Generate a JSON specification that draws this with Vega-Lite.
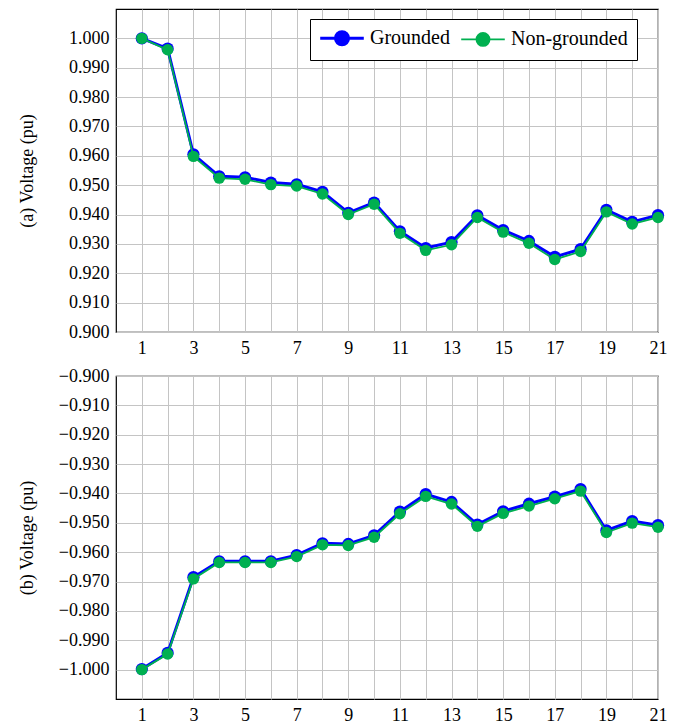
{
  "$schema": "https://vega.github.io/schema/vega-lite/v6.json",
  "padding": {"left": 17, "top": 8, "right": 5, "bottom": 2},
  "config": {
    "font": "Liberation Serif",
    "view": {"stroke": "black", "strokeWidth": 1.2},
    "axis": {
      "labelFont": "Liberation Serif", "labelFontSize": 18, "labelColor": "black",
      "titleFont": "Liberation Serif", "titleFontSize": 18, "titleFontWeight": "normal", "titleColor": "black",
      "gridColor": "#c4c4c4", "gridWidth": 1, "gridOpacity": 1,
      "ticks": false, "domain": false, "labelPadding": 7, "labelFlush": false, "labelOverlap": false
    }
  },
  "datasets": {
    "d": [
      {"panel": "a", "series": "Grounded", "x": 1, "v": 1.0},
      {"panel": "a", "series": "Grounded", "x": 2, "v": 0.9965},
      {"panel": "a", "series": "Grounded", "x": 3, "v": 0.9605},
      {"panel": "a", "series": "Grounded", "x": 4, "v": 0.953},
      {"panel": "a", "series": "Grounded", "x": 5, "v": 0.9527},
      {"panel": "a", "series": "Grounded", "x": 6, "v": 0.9509},
      {"panel": "a", "series": "Grounded", "x": 7, "v": 0.9503},
      {"panel": "a", "series": "Grounded", "x": 8, "v": 0.9477},
      {"panel": "a", "series": "Grounded", "x": 9, "v": 0.9406},
      {"panel": "a", "series": "Grounded", "x": 10, "v": 0.9441},
      {"panel": "a", "series": "Grounded", "x": 11, "v": 0.9343},
      {"panel": "a", "series": "Grounded", "x": 12, "v": 0.9286},
      {"panel": "a", "series": "Grounded", "x": 13, "v": 0.9306},
      {"panel": "a", "series": "Grounded", "x": 14, "v": 0.9397},
      {"panel": "a", "series": "Grounded", "x": 15, "v": 0.9347},
      {"panel": "a", "series": "Grounded", "x": 16, "v": 0.931},
      {"panel": "a", "series": "Grounded", "x": 17, "v": 0.9256},
      {"panel": "a", "series": "Grounded", "x": 18, "v": 0.9282},
      {"panel": "a", "series": "Grounded", "x": 19, "v": 0.9416},
      {"panel": "a", "series": "Grounded", "x": 20, "v": 0.9375},
      {"panel": "a", "series": "Grounded", "x": 21, "v": 0.9398},
      {"panel": "a", "series": "Non-grounded", "x": 1, "v": 1.0},
      {"panel": "a", "series": "Non-grounded", "x": 2, "v": 0.9961},
      {"panel": "a", "series": "Non-grounded", "x": 3, "v": 0.9598},
      {"panel": "a", "series": "Non-grounded", "x": 4, "v": 0.9524},
      {"panel": "a", "series": "Non-grounded", "x": 5, "v": 0.952},
      {"panel": "a", "series": "Non-grounded", "x": 6, "v": 0.9502},
      {"panel": "a", "series": "Non-grounded", "x": 7, "v": 0.9497},
      {"panel": "a", "series": "Non-grounded", "x": 8, "v": 0.947},
      {"panel": "a", "series": "Non-grounded", "x": 9, "v": 0.94},
      {"panel": "a", "series": "Non-grounded", "x": 10, "v": 0.9435},
      {"panel": "a", "series": "Non-grounded", "x": 11, "v": 0.9336},
      {"panel": "a", "series": "Non-grounded", "x": 12, "v": 0.9278},
      {"panel": "a", "series": "Non-grounded", "x": 13, "v": 0.9297},
      {"panel": "a", "series": "Non-grounded", "x": 14, "v": 0.939},
      {"panel": "a", "series": "Non-grounded", "x": 15, "v": 0.934},
      {"panel": "a", "series": "Non-grounded", "x": 16, "v": 0.9302},
      {"panel": "a", "series": "Non-grounded", "x": 17, "v": 0.9247},
      {"panel": "a", "series": "Non-grounded", "x": 18, "v": 0.9274},
      {"panel": "a", "series": "Non-grounded", "x": 19, "v": 0.9409},
      {"panel": "a", "series": "Non-grounded", "x": 20, "v": 0.9368},
      {"panel": "a", "series": "Non-grounded", "x": 21, "v": 0.939},
      {"panel": "b", "series": "Grounded", "x": 1, "v": -0.9998},
      {"panel": "b", "series": "Grounded", "x": 2, "v": -0.9943},
      {"panel": "b", "series": "Grounded", "x": 3, "v": -0.9685},
      {"panel": "b", "series": "Grounded", "x": 4, "v": -0.9631},
      {"panel": "b", "series": "Grounded", "x": 5, "v": -0.9631},
      {"panel": "b", "series": "Grounded", "x": 6, "v": -0.9631},
      {"panel": "b", "series": "Grounded", "x": 7, "v": -0.961},
      {"panel": "b", "series": "Grounded", "x": 8, "v": -0.957},
      {"panel": "b", "series": "Grounded", "x": 9, "v": -0.9572},
      {"panel": "b", "series": "Grounded", "x": 10, "v": -0.9543},
      {"panel": "b", "series": "Grounded", "x": 11, "v": -0.9462},
      {"panel": "b", "series": "Grounded", "x": 12, "v": -0.9402},
      {"panel": "b", "series": "Grounded", "x": 13, "v": -0.9429},
      {"panel": "b", "series": "Grounded", "x": 14, "v": -0.9506},
      {"panel": "b", "series": "Grounded", "x": 15, "v": -0.9461},
      {"panel": "b", "series": "Grounded", "x": 16, "v": -0.9435},
      {"panel": "b", "series": "Grounded", "x": 17, "v": -0.9411},
      {"panel": "b", "series": "Grounded", "x": 18, "v": -0.9385},
      {"panel": "b", "series": "Grounded", "x": 19, "v": -0.9526},
      {"panel": "b", "series": "Grounded", "x": 20, "v": -0.9494},
      {"panel": "b", "series": "Grounded", "x": 21, "v": -0.9508},
      {"panel": "b", "series": "Non-grounded", "x": 1, "v": -1.0},
      {"panel": "b", "series": "Non-grounded", "x": 2, "v": -0.9947},
      {"panel": "b", "series": "Non-grounded", "x": 3, "v": -0.9691},
      {"panel": "b", "series": "Non-grounded", "x": 4, "v": -0.9635},
      {"panel": "b", "series": "Non-grounded", "x": 5, "v": -0.9635},
      {"panel": "b", "series": "Non-grounded", "x": 6, "v": -0.9635},
      {"panel": "b", "series": "Non-grounded", "x": 7, "v": -0.9615},
      {"panel": "b", "series": "Non-grounded", "x": 8, "v": -0.9575},
      {"panel": "b", "series": "Non-grounded", "x": 9, "v": -0.9577},
      {"panel": "b", "series": "Non-grounded", "x": 10, "v": -0.9549},
      {"panel": "b", "series": "Non-grounded", "x": 11, "v": -0.9469},
      {"panel": "b", "series": "Non-grounded", "x": 12, "v": -0.941},
      {"panel": "b", "series": "Non-grounded", "x": 13, "v": -0.9436},
      {"panel": "b", "series": "Non-grounded", "x": 14, "v": -0.9512},
      {"panel": "b", "series": "Non-grounded", "x": 15, "v": -0.9468},
      {"panel": "b", "series": "Non-grounded", "x": 16, "v": -0.9443},
      {"panel": "b", "series": "Non-grounded", "x": 17, "v": -0.9418},
      {"panel": "b", "series": "Non-grounded", "x": 18, "v": -0.9392},
      {"panel": "b", "series": "Non-grounded", "x": 19, "v": -0.9533},
      {"panel": "b", "series": "Non-grounded", "x": 20, "v": -0.9501},
      {"panel": "b", "series": "Non-grounded", "x": 21, "v": -0.9515}
    ]
  },
  "spacing": 8,
  "resolve": {"scale": {"color": "independent", "y": "independent", "x": "independent"}, "legend": {"color": "independent"}},
  "vconcat": [
    {
      "width": 542, "height": 323,
      "data": {"name": "d"},
      "transform": [{"filter": "datum.panel == 'a'"}],
      "encoding": {
        "x": {"field": "x", "type": "quantitative", "scale": {"domain": [0, 21], "nice": false, "zero": false},
              "axis": {"title": null, "values": [1,2,3,4,5,6,7,8,9,10,11,12,13,14,15,16,17,18,19,20,21], "labelExpr": "datum.value % 2 == 1 ? datum.label : ''"}},
        "y": {"field": "v", "type": "quantitative", "scale": {"domain": [0.9, 1.01], "nice": false, "zero": false},
              "axis": {"title": "(a) Voltage (pu)", "titleX": -80, "format": ".3f", "values": [0.9,0.91,0.92,0.93,0.94,0.95,0.96,0.97,0.98,0.99,1.0]}},
        "color": {"field": "series", "type": "nominal",
                  "scale": {"domain": ["Grounded", "Non-grounded"], "range": ["#0000ff", "#00b050"]},
                  "legend": {
                    "orient": "none", "legendX": 194, "legendY": 10, "direction": "horizontal", "title": null,
                    "strokeColor": "black", "fillColor": "white", "padding": 9, "cornerRadius": 0,
                    "symbolType": "M-1,0H1M-0.3,0A0.3,0.3,0,1,1,0.3,0A0.3,0.3,0,1,1,-0.3,0Z",
                    "symbolSize": 1900, "labelFontSize": 20, "labelFont": "Liberation Serif", "labelColor": "black",
                    "symbolOffset": 13, "labelOffset": 18, "columnPadding": 7,
                    "encode": {"symbols": {"update": {
                      "fill": {"signal": "datum.value == 'Grounded' ? '#0000ff' : '#00b050'"},
                      "stroke": {"signal": "datum.value == 'Grounded' ? '#0000ff' : '#00b050'"},
                      "strokeWidth": {"signal": "datum.value == 'Grounded' ? 3 : 1.8"},
                      "opacity": {"value": 1}, "fillOpacity": {"value": 1}, "strokeOpacity": {"value": 1}
                    }}}
                  }}
      },
      "layer": [
        {"transform": [{"filter": "datum.series == 'Grounded'"}], "mark": {"type": "line", "strokeWidth": 3}},
        {"transform": [{"filter": "datum.series == 'Grounded'"}], "mark": {"type": "point", "filled": true, "shape": "circle", "size": 150, "opacity": 1}},
        {"transform": [{"filter": "datum.series == 'Non-grounded'"}], "mark": {"type": "line", "strokeWidth": 1.8}},
        {"transform": [{"filter": "datum.series == 'Non-grounded'"}], "mark": {"type": "point", "filled": true, "shape": "circle", "size": 130, "opacity": 1}}
      ]
    },
    {
      "width": 542, "height": 323,
      "data": {"name": "d"},
      "transform": [{"filter": "datum.panel == 'b'"}],
      "encoding": {
        "x": {"field": "x", "type": "quantitative", "scale": {"domain": [0, 21], "nice": false, "zero": false},
              "axis": {"title": null, "values": [1,2,3,4,5,6,7,8,9,10,11,12,13,14,15,16,17,18,19,20,21], "labelExpr": "datum.value % 2 == 1 ? datum.label : ''"}},
        "y": {"field": "v", "type": "quantitative", "scale": {"domain": [-1.01, -0.9], "nice": false, "zero": false},
              "axis": {"title": "(b) Voltage (pu)", "titleX": -80, "format": ".3f", "values": [-1.0,-0.99,-0.98,-0.97,-0.96,-0.95,-0.94,-0.93,-0.92,-0.91,-0.9]}},
        "color": {"field": "series", "type": "nominal",
                  "scale": {"domain": ["Grounded", "Non-grounded"], "range": ["#0000ff", "#00b050"]},
                  "legend": null}
      },
      "layer": [
        {"transform": [{"filter": "datum.series == 'Grounded'"}], "mark": {"type": "line", "strokeWidth": 3}},
        {"transform": [{"filter": "datum.series == 'Grounded'"}], "mark": {"type": "point", "filled": true, "shape": "circle", "size": 150, "opacity": 1}},
        {"transform": [{"filter": "datum.series == 'Non-grounded'"}], "mark": {"type": "line", "strokeWidth": 1.8}},
        {"transform": [{"filter": "datum.series == 'Non-grounded'"}], "mark": {"type": "point", "filled": true, "shape": "circle", "size": 130, "opacity": 1}}
      ]
    }
  ]
}
